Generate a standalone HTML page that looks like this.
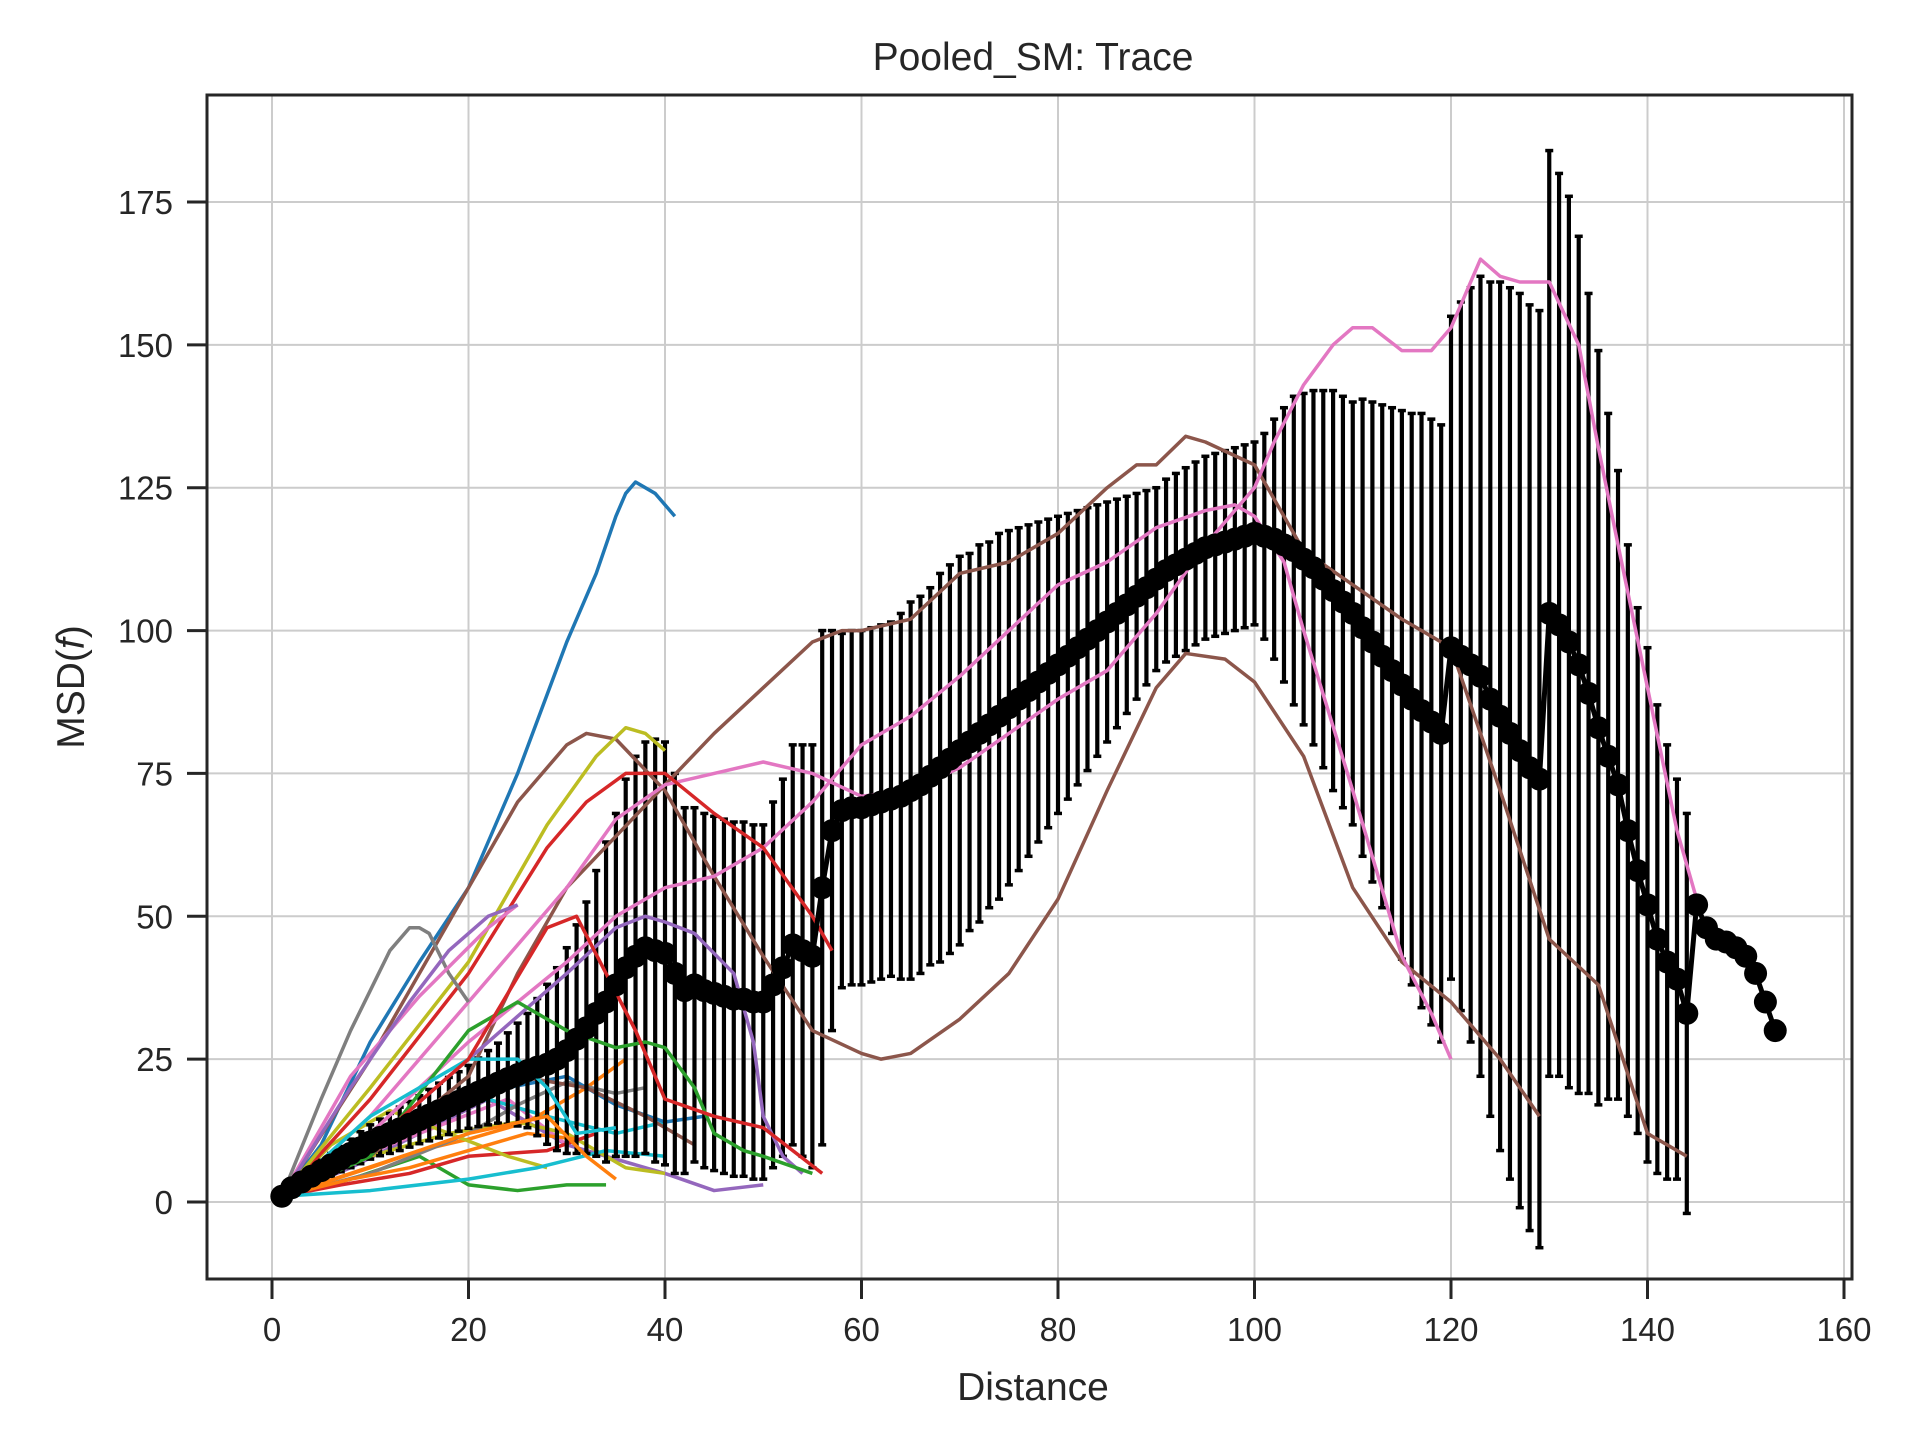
<!DOCTYPE html>
<html><head><meta charset="utf-8"><title>Pooled_SM: Trace</title>
<style>html,body{margin:0;padding:0;background:#fff}svg{display:block}text{font-family:"Liberation Sans",sans-serif;fill:#262626}</style>
</head><body>
<svg id="chart" width="1920" height="1440" viewBox="0 0 1920 1440" xmlns="http://www.w3.org/2000/svg">
<rect width="1920" height="1440" fill="#fff"/>
<g id="grid"></g>
<g id="traces"></g>
<g id="errs"></g>
<g id="traces2"></g>
<g id="mean"></g>
<rect x="207" y="95" width="1645" height="1184" fill="none" stroke="#262626" stroke-width="3"/>
<g id="axes"></g>
<text x="1033" y="70" text-anchor="middle" font-size="39">Pooled_SM: Trace</text>
<text x="1033" y="1400" text-anchor="middle" font-size="39">Distance</text>
<text transform="translate(84,687) rotate(-90)" text-anchor="middle" font-size="39">MSD(<tspan font-style="italic">f</tspan>)</text>
</svg>
<script>
const xTicks=[0,20,40,60,80,100,120,140,160];
const yTicks=[0,25,50,75,100,125,150,175];
const meanValues=[1,2.5,3.5,4.5,5.5,6.5,7.5,8.5,9.5,10.5,
11.3,12,12.8,13.6,14.4,15.2,16,16.8,17.6,18.4,
19.2,20,20.8,21.6,22.3,23,23.6,24.1,25,26.5,
28.5,30.5,33,35,38,41,43,44.5,44,43.5,
40,37,38,37,36.5,36,35.5,35.5,35,35,
38,41,45,44,43,55,65,68.5,69,69,
69.5,70,70.5,71,72,73,74.5,76,77.5,79,
80.5,82,83.5,85,86.5,88,89.5,91,92.5,94,
95.5,97,98.5,100,101.5,103,104.5,106,107.5,109,
110.5,111.5,112.5,113.5,114.5,115,115.5,116,116.5,117,
116.5,116,115,114,112.5,111,109,107,105,103,
100.5,98,95.5,93,90.5,88,86,84,82,97,
95.5,94,92,88,85,82,79,76,74,103,
101,98,94,89,83,78,73,65,58,52,
46,42,39,33,52,48,46,45.5,44.5,43,
40,35,30];
const sdValues=[0.5,1,1.2,1.5,1.8,2,2.2,2.5,2.8,3,
3.2,3.5,3.8,4,4.2,4.5,4.8,5,5.2,5.5,
6,6.5,7,8,9,10,12,14,16,18,
20,22,25,28,30,33,35,36,37,37,
35,32,31,31,31,31,31,31,31,31,
32,33,35,36,37,45,35,31,31,31,
31,31,31,32,33,33,33,34,34,34,
33,33,32,32,31,30,29,28,27,26,
25,24,23,22,21,20,19,18,17,16,
16,16,16,16,16,16,16,16,16,16,
18,21,24,27,29,31,33,35,36,37,
40,42,44,46,48,50,52,53,54,58,
62,66,70,73,76,78,80,81,82,81,
79,78,75,70,66,60,55,50,46,45,
41,38,35,35,0,0,0,0,0,0,
0,0,0];
const blueX=[1,5,10,15,20,25,30,33,35,36,37,39,41];
const blueY=[1,10,28,42,55,75,98,110,120,124,126,124,120];
const brownAX=[1,10,20,25,30,35,40,45,50,55,58,60,65,70,75,80,85,88,90,93,95,100,105,110,115,120,125,130,135,140,144];
const brownAY=[1,8,22,40,55,64,73,82,90,98,100,100,102,110,112,117,125,129,129,134,133,129,114,108,102,97,72,46,38,12,8];
const brownBX=[1,10,20,25,30,32,35,40,45,50,55,60,62,65,70,75,80,85,90,93,97,100,105,110,115,120,125,129];
const brownBY=[1,25,55,70,80,82,81,72,57,43,30,26,25,26,32,40,53,72,90,96,95,91,78,55,42,35,25,15];
const pinkAX=[1,10,20,30,35,40,45,50,55,60,65,70,75,80,85,90,95,100,102,105,108,110,112,115,118,120,123,125,127,130,133,135,137,140,143,145];
const pinkAY=[1,15,35,55,67,73,75,77,75,71,72,76,82,88,93,103,115,125,133,143,150,153,153,149,149,153,165,162,161,161,150,132,115,90,65,53];
const pinkBX=[1,10,20,30,35,40,45,50,55,60,65,70,75,80,85,90,95,98,100,103,105,110,115,118,120];
const pinkBY=[1,12,28,42,50,55,57,62,70,80,85,92,100,108,112,118,121,122,120,112,100,72,43,33,25];
const redX=[1,10,20,28,32,36,40,45,50,55,57];
const redY=[1,18,40,62,70,75,75,68,62,50,44];
const oliveX=[1,10,20,28,33,36,38,40];
const oliveY=[1,20,42,66,78,83,82,79];
const grayX=[1,5,8,10,12,14,15,16,18,20];
const grayY=[1,18,30,37,44,48,48,47,40,35];
const purpleX=[1,10,20,30,35,38,40,43,47,49,50,52,54];
const purpleY=[1,10,25,40,48,50,49,47,40,28,15,8,5];
const greenX=[1,10,20,25,30,35,38,40,43,45,48,50,55];
const greenY=[1,8,30,35,30,27,28,27,20,12,9,8,5];
const cyanX=[1,10,20,25,28,31,35];
const cyanY=[1,15,25,25,20,12,13];
const orangeX=[1,10,20,28,32,35];
const orangeY=[1,6,12,15,8,4];
const red2X=[1,10,20,28,31,34,37,40,45,50,56];
const red2Y=[1,10,25,48,50,40,30,18,15,13,5];
const pinkCX=[1,8,15,22,25];
const pinkCY=[1,22,36,48,52];
const purpleBX=[1,8,14,18,22,25];
const purpleBY=[1,20,35,44,50,52];
const small1X=[1,8,15,20,25,30,34];
const small1Y=[1,4,8,3,2,3,3];
const small2X=[1,8,15,22,30,40,45,50];
const small2Y=[1,6,12,18,10,5,2,3];
const small3X=[1,6,12,18,24,30];
const small3Y=[1,6,10,14,18,10];
const small4X=[1,8,15,22,28,35,40];
const small4Y=[1,8,15,18,15,12,14];
const small5X=[1,8,15,20,26,32,36];
const small5Y=[1,5,9,11,14,20,25];
const small6X=[1,10,18,25,30,36,40];
const small6Y=[1,8,12,14,12,6,5];
const small7X=[1,10,20,25,30,35,38];
const small7Y=[1,5,12,17,21,19,20];
const small8X=[1,7,14,20,28,33];
const small8Y=[1,3,5,8,9,12];
const small9X=[1,8,16,24,30,35,40,44];
const small9Y=[1,7,14,20,22,17,14,15];
const small10X=[1,6,12,18,24,28];
const small10Y=[1,10,16,12,8,6];
const small11X=[1,9,18,25,32,38,43];
const small11Y=[1,9,16,22,20,15,10];
const small12X=[1,8,14,20,26,31];
const small12Y=[1,4,6,9,12,11];
const small13X=[1,10,20,27,34,40];
const small13Y=[1,2,4,6,9,8];
const traces=[
 ['trace-small-1','#2ca02c',small1X,small1Y],['trace-small-2','#9467bd',small2X,small2Y],['trace-small-3','#e377c2',small3X,small3Y],
 ['trace-small-4','#17becf',small4X,small4Y],['trace-small-5','#ff7f0e',small5X,small5Y],['trace-small-6','#bcbd22',small6X,small6Y],
 ['trace-small-7','#7f7f7f',small7X,small7Y],['trace-small-8','#d62728',small8X,small8Y],['trace-small-9','#1f77b4',small9X,small9Y],
 ['trace-small-10','#bcbd22',small10X,small10Y],['trace-small-11','#8c564b',small11X,small11Y],['trace-small-12','#ff7f0e',small12X,small12Y],
 ['trace-small-13','#17becf',small13X,small13Y]];
const traces2=[
 ['trace-blue','#1f77b4',blueX,blueY],['trace-brown-a','#8c564b',brownAX,brownAY],['trace-brown-b','#8c564b',brownBX,brownBY],
 ['trace-pink-a','#e377c2',pinkAX,pinkAY],['trace-pink-b','#e377c2',pinkBX,pinkBY],['trace-red','#d62728',redX,redY],
 ['trace-olive','#bcbd22',oliveX,oliveY],['trace-gray','#7f7f7f',grayX,grayY],['trace-purple','#9467bd',purpleX,purpleY],
 ['trace-green','#2ca02c',greenX,greenY],['trace-cyan','#17becf',cyanX,cyanY],['trace-orange','#ff7f0e',orangeX,orangeY],
 ['trace-red-2','#d62728',red2X,red2Y],['trace-pink-c','#e377c2',pinkCX,pinkCY],['trace-purple-b','#9467bd',purpleBX,purpleBY]];
const NS='http://www.w3.org/2000/svg';
const X0=207,X1=1852,Y0=95,Y1=1279;
function sx(v){return 272+v*(1844-272)/160;}
function sy(v){return 1202-v*(1202-202)/175;}
function mk(t,a,p){const e=document.createElementNS(NS,t);for(const k in a)e.setAttribute(k,a[k]);p.appendChild(e);return e;}
const grid=document.getElementById('grid'),axes=document.getElementById('axes');
xTicks.forEach(t=>{
 const l=mk('line',{x1:sx(t),x2:sx(t),y1:Y0,y2:Y1,stroke:'#cccccc','stroke-width':2},grid);
 
 
 const k=mk('line',{x1:sx(t),x2:sx(t),y1:Y1,y2:Y1+20,stroke:'#262626','stroke-width':3},axes);
 
 
 const tx=mk('text',{x:sx(t),y:Y1+62,'text-anchor':'middle','font-size':33},axes);tx.textContent=t;
 
 
});
yTicks.forEach(t=>{
 const l=mk('line',{x1:X0,x2:X1,y1:sy(t),y2:sy(t),stroke:'#cccccc','stroke-width':2},grid);
 
 
 const k=mk('line',{x1:X0-20,x2:X0,y1:sy(t),y2:sy(t),stroke:'#262626','stroke-width':3},axes);
 
 
 const tx=mk('text',{x:X0-34,y:sy(t)+12,'text-anchor':'end','font-size':33},axes);tx.textContent=t;
 
 
});
function drawTraces(list,gid){
 const tg=document.getElementById(gid);
 list.forEach(([n,c,xs,ys])=>{
  const p=mk('polyline',{points:xs.map((x,i)=>sx(x)+','+sy(ys[i])).join(' '),fill:'none',stroke:c,'stroke-width':3.5,'stroke-linejoin':'round'},tg);
  
  
 });
}
drawTraces(traces,'traces');
const errs=document.getElementById('errs');
meanValues.forEach((m,i)=>{
 const s=sdValues[i];if(!s)return;const x=sx(i+1);
 const g=mk('g',{},errs);
 
 
 mk('line',{x1:x,x2:x,y1:sy(m-s),y2:sy(m+s),stroke:'#000','stroke-width':4.2},g);
 mk('line',{x1:x-4,x2:x+4,y1:sy(m-s),y2:sy(m-s),stroke:'#000','stroke-width':3.5},g);
 mk('line',{x1:x-4,x2:x+4,y1:sy(m+s),y2:sy(m+s),stroke:'#000','stroke-width':3.5},g);
});
drawTraces(traces2,'traces2');
const mg=document.getElementById('mean');
const ml=mk('polyline',{points:meanValues.map((v,i)=>sx(i+1)+','+sy(v)).join(' '),fill:'none',stroke:'#000','stroke-width':5},mg);


meanValues.forEach((v,i)=>{
 const c=mk('circle',{cx:sx(i+1),cy:sy(v),r:11.5,fill:'#000'},mg);
 
 
});
</script>
</body></html>
